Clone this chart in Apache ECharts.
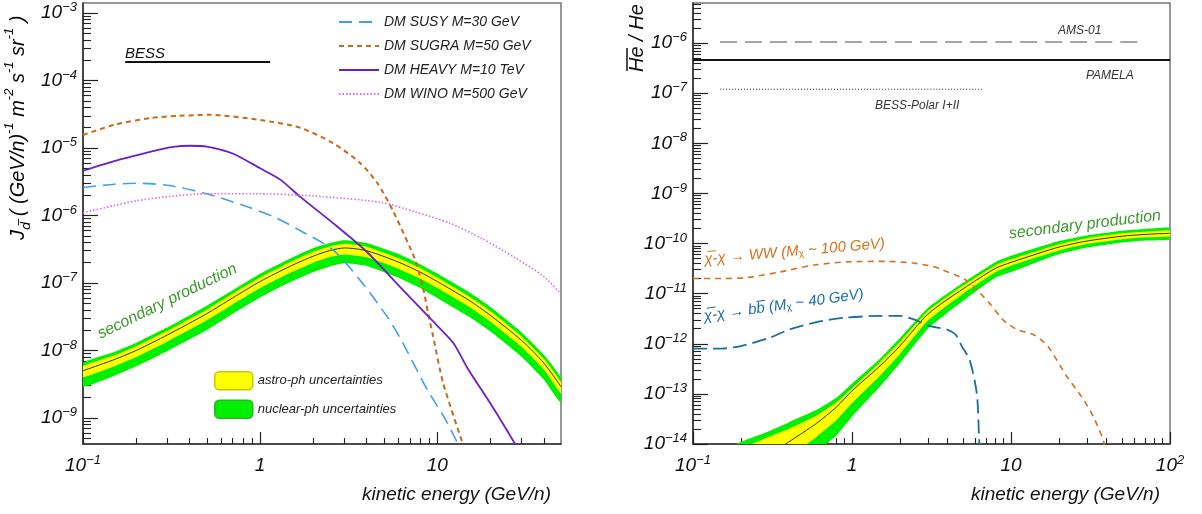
<!DOCTYPE html>
<html>
<head>
<meta charset="utf-8">
<script src="https://cdn.jsdelivr.net/npm/echarts@6.0.0/dist/echarts.min.js"></script>
<style>
html, body { margin: 0; padding: 0; background: #fff; }
#chart { width: 1202px; height: 514px; }
</style>
</head>
<body>
<div id="chart"></div>
<script>
// ---- left panel: antideuteron flux ----
const susyE = [0.1, 0.15, 0.2, 0.3, 0.5, 0.88, 1.2, 1.68, 2.58, 3.67, 5.2, 6.2, 8.8, 11, 13.5];
const susyJ = [2.6e-6, 2.9e-6, 3.0e-6, 2.8e-6, 2.1e-6, 1.3e-6, 9.5e-7, 6.0e-7, 3.1e-7, 1.1e-7, 3.2e-8, 1.5e-8, 2.6e-9, 1.0e-9, 3.5e-10];

const sugraE = [0.1, 0.15, 0.24, 0.35, 0.52, 1, 1.68, 2.58, 3.67, 4.6, 5.6, 7.0, 7.5, 8.3, 8.9, 9.4, 10.8, 14];
const sugraJ = [1.56e-5, 2.2e-5, 2.78e-5, 3.0e-5, 3.1e-5, 2.6e-5, 2.0e-5, 1.18e-5, 6.0e-6, 3.0e-6, 1.2e-6, 3.4e-7, 2.2e-7, 8.7e-8, 3.5e-8, 1.8e-8, 3.3e-9, 4e-10];

const heavyE = [0.1, 0.15, 0.2, 0.27, 0.33, 0.4, 0.5, 0.7, 1.0, 1.3, 1.68, 2.58, 4, 6.18, 9.1, 12.3, 14.8, 19, 23, 28];
const heavyJ = [4.6e-6, 6.4e-6, 7.8e-6, 9.5e-6, 1.05e-5, 1.08e-5, 1.05e-5, 8.3e-6, 5.0e-6, 3.4e-6, 1.9e-6, 7.7e-7, 2.9e-7, 8.7e-8, 3.0e-8, 1.3e-8, 5.5e-9, 2.0e-9, 9e-10, 3.8e-10];

const winoE = [0.1, 0.15, 0.2, 0.3, 0.5, 0.9, 2, 4.9, 7.5, 11.8, 18, 28, 40, 50];
const winoJ = [1.1e-6, 1.4e-6, 1.65e-6, 1.9e-6, 2.1e-6, 2.1e-6, 1.95e-6, 1.55e-6, 1.13e-6, 7.7e-7, 4.5e-7, 2.3e-7, 1.25e-7, 6.8e-8];

const bessE = [0.173, 1.14];
const bessJ = [1.88e-4, 1.88e-4];

const secE = [0.1, 0.15, 0.2, 0.3, 0.5, 0.7, 1, 1.5, 2, 2.5, 3, 4, 6, 8, 10, 15, 20, 30, 40, 50];
const secMid = [5.0e-9, 7.3e-9, 1.0e-8, 1.7e-8, 3.5e-8, 6.0e-8, 1.05e-7, 1.8e-7, 2.5e-7, 3.05e-7, 3.3e-7, 3.0e-7, 2.05e-7, 1.45e-7, 1.05e-7, 5.6e-8, 3.3e-8, 1.4e-8, 6.5e-9, 2.9e-9];
const secGreenHi = [6.5e-9, 9.5e-9, 1.3e-8, 2.2e-8, 4.6e-8, 7.8e-8, 1.37e-7, 2.35e-7, 3.3e-7, 3.95e-7, 4.3e-7, 3.9e-7, 2.7e-7, 1.9e-7, 1.38e-7, 7.4e-8, 4.4e-8, 1.85e-8, 8.6e-9, 3.9e-9];
const secGreenLo = [2.9e-9, 4.2e-9, 5.8e-9, 9.8e-9, 2.0e-8, 3.5e-8, 6.1e-8, 1.05e-7, 1.45e-7, 1.77e-7, 1.95e-7, 1.78e-7, 1.2e-7, 8.4e-8, 6.0e-8, 3.2e-8, 1.9e-8, 8.0e-9, 3.7e-9, 1.66e-9];
const secYellowHi = [5.8e-9, 8.4e-9, 1.15e-8, 1.95e-8, 4.0e-8, 6.9e-8, 1.2e-7, 2.07e-7, 2.9e-7, 3.5e-7, 3.8e-7, 3.45e-7, 2.35e-7, 1.67e-7, 1.2e-7, 6.4e-8, 3.8e-8, 1.6e-8, 7.5e-9, 3.35e-9];
const secYellowLo = [4.0e-9, 5.8e-9, 8.0e-9, 1.36e-8, 2.8e-8, 4.8e-8, 8.4e-8, 1.44e-7, 2.0e-7, 2.44e-7, 2.65e-7, 2.4e-7, 1.64e-7, 1.16e-7, 8.4e-8, 4.5e-8, 2.65e-8, 1.12e-8, 5.2e-9, 2.3e-9];

// ---- right panel: antihelium / helium ratio ----
const wwE = [0.1, 0.15, 0.22, 0.35, 0.57, 0.93, 1.66, 2.4, 3.2, 3.6, 5.3, 7.3, 9, 11, 14, 17, 22.5, 28, 33, 38, 40];
const wwR = [2.0e-11, 2.0e-11, 2.1e-11, 2.7e-11, 3.7e-11, 4.3e-11, 4.4e-11, 4.1e-11, 3.5e-11, 3.1e-11, 1.8e-11, 6.5e-12, 2.9e-12, 1.9e-12, 1.5e-12, 9e-13, 2.2e-13, 8.5e-14, 3.5e-14, 1.2e-14, 6e-15];

const bbE = [0.1, 0.15, 0.2, 0.3, 0.4, 0.6, 0.9, 1.5, 2, 2.5, 3, 4, 4.5, 4.9, 5.5, 6.1, 6.3, 6.4];
const bbR = [8e-13, 8e-13, 9e-13, 1.3e-12, 1.9e-12, 2.7e-12, 3.3e-12, 3.6e-12, 3.6e-12, 3.0e-12, 2.3e-12, 1.9e-12, 1.5e-12, 9e-13, 4.7e-13, 1.0e-13, 1.3e-14, 5e-15];

const amsE = [0.148, 70];
const amsR = [1.05e-6, 1.05e-6];
const pamelaE = [0.1, 100];
const pamelaR = [4.6e-7, 4.6e-7];
const bessPolarE = [0.148, 6.7];
const bessPolarR = [1.2e-7, 1.2e-7];

const ratE = [0.15, 0.2, 0.3, 0.4, 0.6, 0.8, 1, 1.5, 2, 3, 5, 8, 10, 15, 20, 30, 50, 70, 100];
const ratMid = [2e-15, 3.2e-15, 6e-15, 1.1e-14, 2.6e-14, 5.5e-14, 1.15e-13, 3.6e-13, 9e-13, 3.9e-12, 1.25e-11, 3.2e-11, 4.2e-11, 6.4e-11, 8.5e-11, 1.12e-10, 1.4e-10, 1.52e-10, 1.6e-10];
const ratGreenHi = [7e-15, 1.1e-14, 1.8e-14, 2.7e-14, 4.8e-14, 8.5e-14, 1.6e-13, 5.0e-13, 1.3e-12, 5.2e-12, 1.65e-11, 4.3e-11, 5.7e-11, 8.5e-11, 1.12e-10, 1.45e-10, 1.8e-10, 1.95e-10, 2.05e-10];
const ratGreenLo = [3e-16, 6e-16, 1.5e-15, 3e-15, 7e-15, 1.5e-14, 3.5e-14, 1.4e-13, 4.1e-13, 2.0e-12, 7.2e-12, 2.1e-11, 2.7e-11, 4.4e-11, 6.1e-11, 8.3e-11, 1.05e-10, 1.15e-10, 1.2e-10];
const ratYellowHi = [5e-15, 8e-15, 1.4e-14, 2.0e-14, 3.7e-14, 6.8e-14, 1.3e-13, 4.3e-13, 1.08e-12, 4.5e-12, 1.45e-11, 3.7e-11, 4.85e-11, 7.3e-11, 9.7e-11, 1.28e-10, 1.6e-10, 1.72e-10, 1.8e-10];
const ratYellowLo = [8e-16, 1.5e-15, 3e-15, 5.5e-15, 1.4e-14, 3e-14, 6.5e-14, 2.3e-13, 6.2e-13, 2.9e-12, 1.0e-11, 2.7e-11, 3.6e-11, 5.5e-11, 7.3e-11, 9.8e-11, 1.22e-10, 1.33e-10, 1.4e-10];

// ---- axes ----
const leftXTicks = [0.1, 1, 10];
const leftYTicks = [1e-9, 1e-8, 1e-7, 1e-6, 1e-5, 1e-4, 1e-3];
const rightXTicks = [0.1, 1, 10, 100];
const rightYTicks = [1e-14, 1e-13, 1e-12, 1e-11, 1e-10, 1e-9, 1e-8, 1e-7, 1e-6];
const leftXRange = [0.1, 50];
const leftYRange = [4.1e-10, 1.41e-3];
const rightXRange = [0.1, 100];
const rightYRange = [1e-14, 6.3e-6];

const FONT = 'Liberation Sans';
const GREEN = '#00f000';
const YELLOW = '#ffff00';

function minorTicks(range) {
    let out = [];
    for (let e = -16; e <= 3; e++) {
        for (let m = 2; m <= 9; m++) {
            let v = m * Math.pow(10, e);
            if (v > range[0] && v < range[1]) out.push(v);
        }
    }
    return out;
}

function powLabel(v) {
    let e = Math.round(Math.log10(v));
    if (e === 0) return '{b|1}';
    if (e === 1) return '{b|10}';
    return '{b|10}{s|' + (e < 0 ? '\u2212' : '') + Math.abs(e) + '}';
}

const labelRich = {
    b: {fontSize: 19, fontStyle: 'italic', fontFamily: FONT, color: '#111', lineHeight: 24},
    s: {fontSize: 13, fontStyle: 'italic', fontFamily: FONT, color: '#111', lineHeight: 12, verticalAlign: 'top'}
};

function xAxes(grid, range, majors, name) {
    return [{
        type: 'log', gridIndex: grid, min: range[0], max: range[1], position: 'bottom',
        axisLine: {lineStyle: {color: '#333', width: 1.6}},
        axisTick: {inside: true, length: 12, customValues: majors, lineStyle: {color: '#222', width: 1.2}},
        axisLabel: {customValues: majors, formatter: powLabel, rich: labelRich, margin: 10},
        splitLine: {show: false},
        name: name, nameLocation: 'end', nameGap: -10,
        nameTextStyle: {fontFamily: FONT, fontStyle: 'italic', fontSize: 19, color: '#111',
            align: 'right', verticalAlign: 'top', padding: [41, 0, 0, 0]}
    }, {
        type: 'log', gridIndex: grid, min: range[0], max: range[1], position: 'bottom',
        axisLine: {show: false},
        axisTick: {inside: true, length: 6, customValues: minorTicks(range), lineStyle: {color: '#222', width: 1.1}},
        axisLabel: {show: false},
        splitLine: {show: false}
    }];
}

function yAxes(grid, range, majors) {
    return [{
        type: 'log', gridIndex: grid, min: range[0], max: range[1], position: 'left',
        axisLine: {lineStyle: {color: '#333', width: 1.6}},
        axisTick: {inside: true, length: 15, customValues: majors, lineStyle: {color: '#222', width: 1.2}},
        axisLabel: {customValues: majors, formatter: powLabel, rich: labelRich, margin: 6},
        splitLine: {show: false}
    }, {
        type: 'log', gridIndex: grid, min: range[0], max: range[1], position: 'left',
        axisLine: {show: false},
        axisTick: {inside: true, length: 8, customValues: minorTicks(range), lineStyle: {color: '#222', width: 1.1}},
        axisLabel: {show: false},
        splitLine: {show: false}
    }];
}

function curve(name, g, xs, ys, color, width, type, z) {
    return {
        name: name, type: 'line', xAxisIndex: g * 2, yAxisIndex: g * 2,
        data: xs.map(function (x, i) { return [x, ys[i]]; }),
        showSymbol: false, symbol: 'none', smooth: 0.25, clip: true, z: z || 3,
        lineStyle: {color: color, width: width, type: type},
        itemStyle: {color: color}
    };
}

function band(name, g, xs, lo, hi, color) {
    return {
        name: name, type: 'custom', xAxisIndex: g * 2, yAxisIndex: g * 2,
        clip: true, z: 1, silent: true,
        itemStyle: {color: color},
        data: xs.map(function (x, i) { return [x, lo[i], hi[i]]; }),
        encode: {x: 0, y: [1, 2]},
        renderItem: function (params, api) {
            if (params.dataIndex !== 0) return null;
            let pts = [];
            for (let i = 0; i < xs.length; i++) pts.push(api.coord([xs[i], hi[i]]));
            for (let j = xs.length - 1; j >= 0; j--) pts.push(api.coord([xs[j], lo[j]]));
            return {type: 'polygon', shape: {points: pts, smooth: 0.15}, style: {fill: color}};
        }
    };
}

function note(text, x, y, size, color, rot) {
    return {
        type: 'text', x: x, y: y, rotation: (rot || 0) * Math.PI / 180, z: 50,
        style: {text: text, fill: color, fontFamily: FONT, fontStyle: 'italic', fontSize: size,
            textAlign: 'left', textVerticalAlign: 'bottom'}
    };
}

const titleRich = {
    t: {fontSize: 20, fontStyle: 'italic', fontFamily: FONT, color: '#111', lineHeight: 30},
    sub: {fontSize: 13, fontStyle: 'italic', fontFamily: 'DejaVu Sans', color: '#111', lineHeight: 13, verticalAlign: 'bottom'},
    sup: {fontSize: 13, fontStyle: 'italic', fontFamily: FONT, color: '#111', lineHeight: 13, verticalAlign: 'top'}
};

const option = {
    animation: false,
    backgroundColor: '#fff',
    grid: [
        {left: 83, top: 3, width: 478, height: 441, show: true, borderColor: '#777', borderWidth: 1.5},
        {left: 693, top: 3, width: 477, height: 441, show: true, borderColor: '#777', borderWidth: 1.5}
    ],
    xAxis: xAxes(0, leftXRange, leftXTicks, 'kinetic energy (GeV/n)')
        .concat(xAxes(1, rightXRange, rightXTicks, 'kinetic energy (GeV/n)')),
    yAxis: yAxes(0, leftYRange, leftYTicks).concat(yAxes(1, rightYRange, rightYTicks)),
    legend: [{
        orient: 'vertical', left: 333, top: 10, itemWidth: 40, itemHeight: 14, itemGap: 10,
        selectedMode: false,
        itemStyle: {opacity: 0},
        textStyle: {fontFamily: FONT, fontStyle: 'italic', fontSize: 14, color: '#222'},
        data: ['DM SUSY M=30 GeV', 'DM SUGRA M=50 GeV', 'DM HEAVY M=10 TeV', 'DM WINO M=500 GeV']
    }, {
        orient: 'vertical', left: 209, top: 366, itemWidth: 38, itemHeight: 18, itemGap: 9,
        selectedMode: false, icon: 'roundRect',
        textStyle: {fontFamily: FONT, fontStyle: 'italic', fontSize: 13, color: '#222'},
        data: [
            {name: 'astro-ph uncertainties', itemStyle: {borderColor: '#c8c800', borderWidth: 1.5}},
            {name: 'nuclear-ph uncertainties', itemStyle: {borderColor: '#22bb22', borderWidth: 1.5}}
        ]
    }],
    series: [
        band('nuclear-ph uncertainties', 0, secE, secGreenLo, secGreenHi, GREEN),
        band('astro-ph uncertainties', 0, secE, secYellowLo, secYellowHi, YELLOW),
        curve('secondary', 0, secE, secMid, '#000', 0.8, 'solid', 2),
        curve('DM SUSY M=30 GeV', 0, susyE, susyJ, '#3fa0f0', 1.6, [13, 7]),
        curve('DM SUGRA M=50 GeV', 0, sugraE, sugraJ, '#cc6a14', 2, [5, 4]),
        curve('DM HEAVY M=10 TeV', 0, heavyE, heavyJ, '#6a1fc8', 1.8, 'solid'),
        curve('DM WINO M=500 GeV', 0, winoE, winoJ, '#dd66f0', 1.6, [1.5, 2]),
        curve('BESS', 0, bessE, bessJ, '#111', 2, 'solid'),

        band('nuclear-ph uncertainties', 1, ratE, ratGreenLo, ratGreenHi, GREEN),
        band('astro-ph uncertainties', 1, ratE, ratYellowLo, ratYellowHi, YELLOW),
        curve('secondary ratio', 1, ratE, ratMid, '#000', 0.8, 'solid', 2),
        curve('WW', 1, wwE, wwR, '#d4731f', 1.6, [6, 5]),
        curve('bb', 1, bbE, bbR, '#1a6fa0', 1.8, [14, 6]),
        curve('AMS-01', 1, amsE, amsR, '#888', 1.6, [17, 8]),
        curve('PAMELA', 1, pamelaE, pamelaR, '#111', 2, 'solid'),
        curve('BESS-Polar I+II', 1, bessPolarE, bessPolarR, '#222', 1, [1, 2])
    ],
    graphic: [
        {
            type: 'text', x: 18, y: 240, rotation: Math.PI / 2, z: 50,
            style: {
                text: '{t|J}{sub|d\u0305}{t| ( (GeV/n)}{sup|-1}{t| m}{sup|-2}{t| s}{sup|-1}{t| sr}{sup|-1}{t| )}',
                rich: titleRich, textAlign: 'left', textVerticalAlign: 'middle'
            }
        },
        {
            type: 'group', x: 637, y: 72, rotation: Math.PI / 2, z: 50,
            children: [
                {type: 'text', x: 0, y: 0, style: {text: 'He / He', fill: '#111', fontFamily: FONT,
                    fontStyle: 'italic', fontSize: 20, textAlign: 'left', textVerticalAlign: 'middle'}},
                {type: 'line', shape: {x1: 1, y1: -10, x2: 24, y2: -10}, style: {stroke: '#111', lineWidth: 1.5}}
            ]
        },
        note('BESS', 125, 61, 15, '#111', 0),
        note('secondary production', 102, 342, 16, '#3a9a2a', 26),
        note('secondary production', 1010, 242, 16, '#3a9a2a', 7),
        note('AMS-01', 1058, 37, 12, '#333', 0),
        note('PAMELA', 1086, 82, 12, '#333', 0),
        note('BESS-Polar I+II', 875, 112, 12, '#333', 0),
        {
            type: 'text', x: 705, y: 267, rotation: 5 * Math.PI / 180, z: 50,
            style: {
                text: '\u03c7\u0305-\u03c7 \u2192 WW (M{s|\u03c7} ~ 100 GeV)', fill: '#d4731f',
                fontFamily: FONT, fontStyle: 'italic', fontSize: 15, textAlign: 'left', textVerticalAlign: 'bottom',
                rich: {s: {fontSize: 10, fill: '#d4731f', verticalAlign: 'bottom', lineHeight: 10}}
            }
        },
        {
            type: 'text', x: 705, y: 324, rotation: 8 * Math.PI / 180, z: 50,
            style: {
                text: '\u03c7\u0305-\u03c7 \u2192 bb\u0305 (M{s|\u03c7} ~ 40 GeV)', fill: '#1a6fa0',
                fontFamily: FONT, fontStyle: 'italic', fontSize: 15, textAlign: 'left', textVerticalAlign: 'bottom',
                rich: {s: {fontSize: 10, fill: '#1a6fa0', verticalAlign: 'bottom', lineHeight: 10}}
            }
        }
    ]
};

const chart = echarts.init(document.getElementById('chart'));
chart.setOption(option);
</script>
</body>
</html>
